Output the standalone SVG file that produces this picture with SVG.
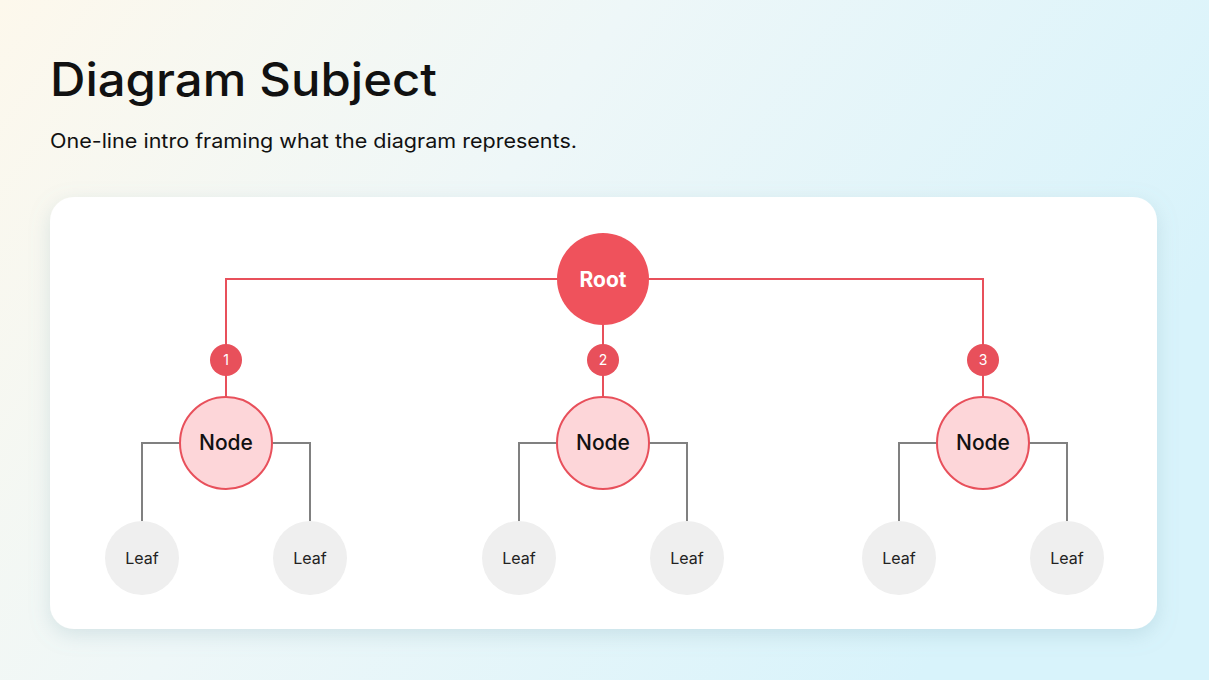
<svg xmlns="http://www.w3.org/2000/svg" width="1209" height="680" viewBox="0 0 1209 680">
<defs>
<linearGradient id="bg" x1="0" y1="0" x2="1" y2="0.4">
<stop offset="0" stop-color="#fdf8ec"/><stop offset="0.45" stop-color="#eef7f8"/><stop offset="1" stop-color="#d8f3fb"/>
</linearGradient>
<filter id="sh" x="-10%" y="-10%" width="120%" height="130%"><feDropShadow dx="0" dy="6" stdDeviation="10" flood-color="#7aa4b0" flood-opacity="0.25"/></filter>
<style>
text{font-family:"Inter","Noto Sans",sans-serif}
.red{stroke:#e8505b;stroke-width:2;fill:none}
.gray{stroke:#808080;stroke-width:2;fill:none}
.node{fill:#fdd6d9;stroke:#e8505b;stroke-width:2}
.leaf{fill:#efefef}
.badge{fill:#e8505b}
.nt{font-size:21px;font-weight:500;fill:#111;text-anchor:middle}
.lt{font-size:16px;fill:#222;text-anchor:middle}
.bt{font-size:14px;fill:#fff;text-anchor:middle}
</style>
</defs>
<rect width="1209" height="680" fill="url(#bg)"/>
<text x="50" y="96" font-size="46" font-weight="500" fill="#111" textLength="387" lengthAdjust="spacingAndGlyphs">Diagram Subject</text>
<text x="50" y="148" font-size="20" fill="#111" textLength="527" lengthAdjust="spacingAndGlyphs">One-line intro framing what the diagram represents.</text>
<rect x="50" y="197" width="1107" height="432" rx="24" fill="#fff" filter="url(#sh)"/>
<g id="connectors">
<path class="red" d="M226 397V279H983V397M603 279V397"/>
<path class="gray" d="M180 443H142V521M272 443H310V521M557 443H519V521M649 443H687V521M937 443H899V521M1029 443H1067V521"/>
</g>
<g id="root"><circle cx="603" cy="279" r="46" fill="#ef525c"/><text class="nt" x="603" y="287" style="fill:#fff;font-weight:700">Root</text></g>
<g id="badge1"><circle class="badge" cx="226" cy="360" r="16"/><text class="bt" x="226" y="365">1</text></g>
<g id="badge2"><circle class="badge" cx="603" cy="360" r="16"/><text class="bt" x="603" y="365">2</text></g>
<g id="badge3"><circle class="badge" cx="983" cy="360" r="16"/><text class="bt" x="983" y="365">3</text></g>
<g id="node1"><circle class="node" cx="226" cy="443" r="46"/><text class="nt" x="226" y="450">Node</text></g>
<g id="node2"><circle class="node" cx="603" cy="443" r="46"/><text class="nt" x="603" y="450">Node</text></g>
<g id="node3"><circle class="node" cx="983" cy="443" r="46"/><text class="nt" x="983" y="450">Node</text></g>
<g id="leaf1"><circle class="leaf" cx="142" cy="558" r="37"/><text class="lt" x="142" y="564">Leaf</text></g>
<g id="leaf2"><circle class="leaf" cx="310" cy="558" r="37"/><text class="lt" x="310" y="564">Leaf</text></g>
<g id="leaf3"><circle class="leaf" cx="519" cy="558" r="37"/><text class="lt" x="519" y="564">Leaf</text></g>
<g id="leaf4"><circle class="leaf" cx="687" cy="558" r="37"/><text class="lt" x="687" y="564">Leaf</text></g>
<g id="leaf5"><circle class="leaf" cx="899" cy="558" r="37"/><text class="lt" x="899" y="564">Leaf</text></g>
<g id="leaf6"><circle class="leaf" cx="1067" cy="558" r="37"/><text class="lt" x="1067" y="564">Leaf</text></g>
</svg>
